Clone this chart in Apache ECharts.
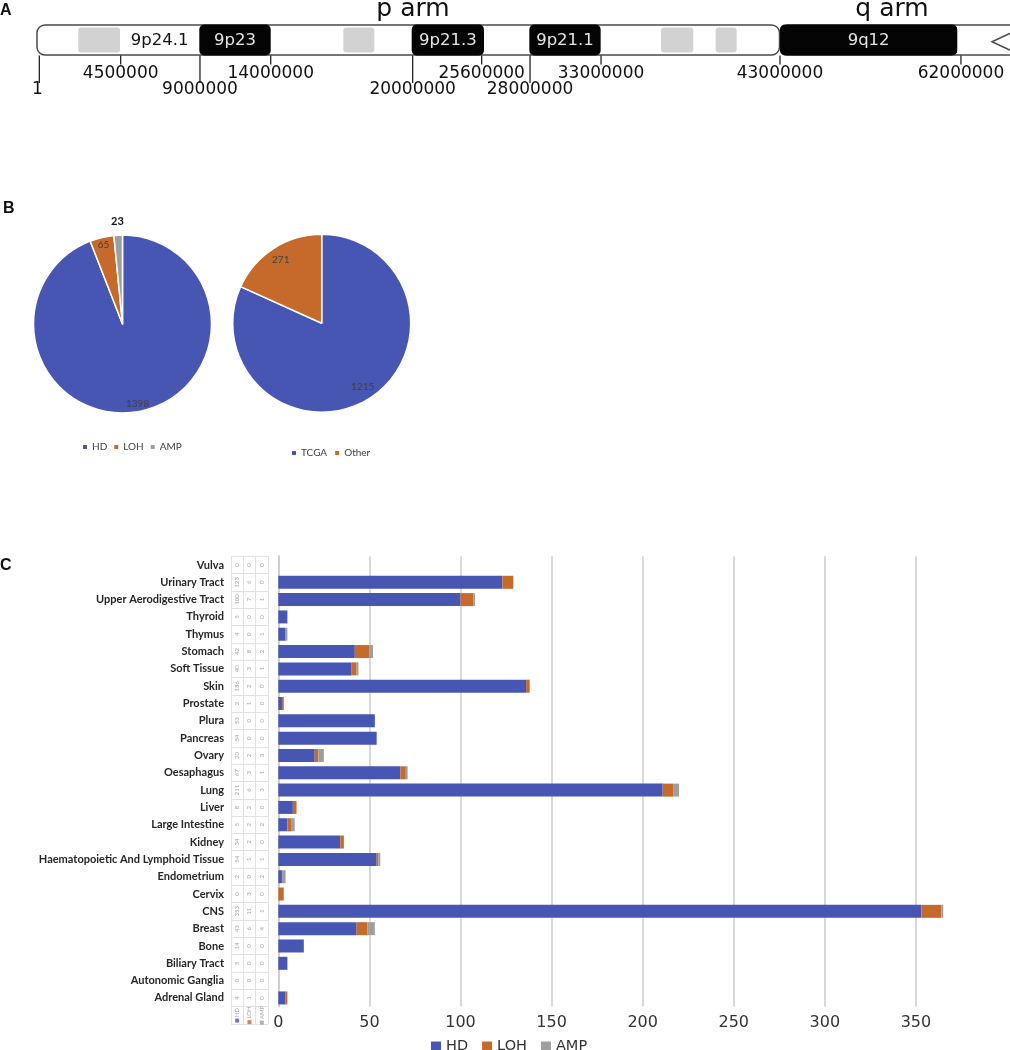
<!DOCTYPE html>
<html><head><meta charset="utf-8">
<script src="https://cdn.jsdelivr.net/npm/echarts@6/dist/echarts.min.js"></script>
<style>html,body{margin:0;padding:0;background:#fff}#c{width:1010px;height:1050px}</style>
</head><body><div id="c"></div>
<script>
// ---------- Panel A: chromosome 9 ideogram (schematic units 0-100 along the drawing) ----------
const armNames = ['p', 'q'];
const armStarts = [0, 76.36];
const armEnds = [76.31, 100.4];
const bandStarts = [4.24, 8.53, 16.68, 31.48, 38.51, 50.6, 64.13, 69.75, 76.36];
const bandEnds   = [8.53, 16.68, 24.02, 34.67, 45.94, 57.93, 67.45, 71.91, 94.58];
const bandStains = ['gpos25', 'gneg', 'gpos100', 'gpos25', 'gpos100', 'gpos100', 'gpos25', 'gpos25', 'gpos100'];
const bandLabels = ['', '9p24.1', '9p23', '', '9p21.3', '9p21.1', '', '', '9q12'];
const tickLabels = ['1', '4500000', '9000000', '14000000', '20000000', '25600000', '28000000', '33000000', '43000000', '62000000'];
const tickPositions = [0.24, 8.6, 16.75, 24.02, 38.61, 45.7, 50.67, 57.97, 76.36, 94.96];
const tickRows = [2, 1, 2, 1, 2, 1, 2, 1, 1, 1];
const notchTip = 98.15;

// ---------- Panel B ----------
const mutationTypes = ['HD', 'LOH', 'AMP'];
const mutationCounts = [1398, 65, 23];
const sources = ['TCGA', 'Other'];
const sourceCounts = [1215, 271];

// ---------- Panel C ----------
const tissues = ['Vulva', 'Urinary Tract', 'Upper Aerodigestive Tract', 'Thyroid', 'Thymus', 'Stomach',
  'Soft Tissue', 'Skin', 'Prostate', 'Plura', 'Pancreas', 'Ovary', 'Oesaphagus', 'Lung', 'Liver',
  'Large Intestine', 'Kidney', 'Haematopoietic And Lymphoid Tissue', 'Endometrium', 'Cervix', 'CNS',
  'Breast', 'Bone', 'Biliary Tract', 'Autonomic Ganglia', 'Adrenal Gland'];
const hdCounts  = [0, 123, 100, 5, 4, 42, 40, 136, 2, 53, 54, 20, 67, 211, 8, 5, 34, 54, 2, 0, 353, 43, 14, 5, 0, 4];
const lohCounts = [0, 6, 7, 0, 0, 8, 3, 2, 1, 0, 0, 2, 3, 6, 2, 2, 2, 1, 0, 3, 11, 6, 0, 0, 0, 1];
const ampCounts = [0, 0, 1, 0, 1, 2, 1, 0, 0, 0, 0, 3, 1, 3, 0, 2, 0, 1, 2, 0, 1, 4, 0, 0, 0, 0];
const xTicks = [0, 50, 100, 150, 200, 250, 300, 350];

const COLORS = { HD: '#4756B3', LOH: '#C66A2C', AMP: '#9E9E9E', TCGA: '#4756B3', Other: '#C66A2C' };
const LINE = '#4a4a4a';

function renderArm(params, api) {
  const i = params.dataIndex;
  const a = api.coord([api.value(0), 1]);
  const b = api.coord([api.value(1), 0]);
  const isQ = armNames[i] === 'q';
  const children = [{
    type: 'rect',
    shape: { x: a[0], y: a[1], width: b[0] - a[0], height: b[1] - a[1], r: isQ ? [8, 0, 0, 8] : 8 },
    style: { fill: '#fff', stroke: LINE, lineWidth: 1.5 }
  }];
  if (isQ) {
    const top = api.coord([api.value(1), 0.78]);
    const tip = api.coord([notchTip, 0.44]);
    const bot = api.coord([api.value(1), 0.1]);
    children.push({ type: 'polyline', shape: { points: [top, tip, bot] }, style: { fill: '#fff', stroke: LINE, lineWidth: 1.5 } });
  }
  return { type: 'group', children };
}

function renderBand(params, api) {
  const i = params.dataIndex;
  const stain = bandStains[i];
  const a = api.coord([api.value(0), 1]);
  const b = api.coord([api.value(1), 0]);
  const children = [];
  if (stain === 'gpos100') {
    children.push({ type: 'rect', shape: { x: a[0], y: a[1] - 0.5, width: b[0] - a[0], height: b[1] - a[1] + 1, r: 5 }, style: { fill: '#050505' } });
  } else if (stain === 'gpos25') {
    children.push({ type: 'rect', shape: { x: a[0], y: a[1] + 2.5, width: b[0] - a[0], height: b[1] - a[1] - 5, r: 3 }, style: { fill: '#d2d2d2' } });
  }
  if (bandLabels[i]) {
    children.push({
      type: 'text', x: (a[0] + b[0]) / 2, y: (a[1] + b[1]) / 2 + 0.5,
      style: { text: bandLabels[i], align: 'center', verticalAlign: 'middle', fill: stain === 'gpos100' ? '#e6e6e6' : '#111', font: '16.5px "DejaVu Sans"' }
    });
  }
  return { type: 'group', children };
}

function renderTick(params, api) {
  const i = params.dataIndex;
  const p = api.coord([api.value(0), 0]);
  const row = tickRows[i];
  const end = p[1] + (row === 1 ? 9.5 : 28);
  const ly = p[1] + (row === 1 ? 18.5 : 35);
  return {
    type: 'group', children: [
      { type: 'line', shape: { x1: p[0], y1: p[1] + 0.5, x2: p[0], y2: end }, style: { stroke: '#222', lineWidth: 1.3 } },
      { type: 'text', x: i === 0 ? p[0] - 2 : p[0], y: ly, style: { text: tickLabels[i], align: 'center', verticalAlign: 'middle', fill: '#111', font: '17px "DejaVu Sans"' } }
    ]
  };
}

const tableData = [];
tissues.forEach((t, r) => {
  tableData.push([0.5, r, hdCounts[r]]);
  tableData.push([1.5, r, lohCounts[r]]);
  tableData.push([2.5, r, ampCounts[r]]);
});
const keyData = mutationTypes.map((m, c) => [c + 0.5, tissues.length, m]);

const pieLabelStyle = { color: '#404040', fontFamily: 'Lato', fontSize: 10 };

const option = {
  animation: false,
  backgroundColor: '#fff',
  graphic: [
    { type: 'text', x: 0, y: 10.5, style: { text: 'A', verticalAlign: 'middle', font: 'bold 16px "Liberation Sans"', fill: '#111' } },
    { type: 'text', x: 3, y: 209, style: { text: 'B', verticalAlign: 'middle', font: 'bold 16px "Liberation Sans"', fill: '#111' } },
    { type: 'text', x: 0, y: 566, style: { text: 'C', verticalAlign: 'middle', font: 'bold 16px "Liberation Sans"', fill: '#111' } },
    { type: 'text', x: 413, y: 9, style: { text: 'p arm', align: 'center', verticalAlign: 'middle', font: '25px "DejaVu Sans"', fill: '#111' } },
    { type: 'text', x: 892, y: 9, style: { text: 'q arm', align: 'center', verticalAlign: 'middle', font: '25px "DejaVu Sans"', fill: '#111' } }
  ],
  legend: [
    { data: mutationTypes, left: 78, top: 436, icon: 'rect', itemWidth: 4, itemHeight: 4, itemGap: 7, selectedMode: false,
      itemStyle: { borderWidth: 0 },
      textStyle: { fontFamily: 'Lato', fontSize: 10, color: '#404040', lineHeight: 12 } },
    { data: sources, left: 287, top: 442, icon: 'rect', itemWidth: 4, itemHeight: 4, itemGap: 8, selectedMode: false,
      itemStyle: { borderWidth: 0 },
      textStyle: { fontFamily: 'Lato', fontSize: 10, color: '#404040', lineHeight: 12 } },
    { data: mutationTypes, left: 426, top: 1034, icon: 'rect', itemWidth: 10, itemHeight: 10, itemGap: 14, selectedMode: false,
      itemStyle: { borderWidth: 0 },
      textStyle: { fontFamily: 'DejaVu Sans', fontSize: 14.5, color: '#333' } }
  ],
  grid: [
    { left: 37, top: 25, width: 973, height: 30 },
    { left: 231, top: 556.3, width: 37, height: 467.6 },
    { left: 278.3, top: 556.3, width: 731, height: 450.3 }
  ],
  xAxis: [
    { type: 'value', gridIndex: 0, min: 0, max: 100, show: false },
    { type: 'value', gridIndex: 1, min: 0, max: 3, interval: 1, axisLabel: { show: false }, axisLine: { show: false }, axisTick: { show: false },
      splitLine: { show: true, lineStyle: { color: '#e2e2e2', width: 1 } } },
    { type: 'value', gridIndex: 2, min: 0, max: 400, interval: 50, axisLine: { show: false }, axisTick: { show: false },
      splitLine: { show: true, showMaxLine: false, lineStyle: { color: '#d9d9d9', width: 2 } },
      axisLabel: { margin: 8, fontFamily: 'DejaVu Sans', fontSize: 16, color: '#333',
        formatter: v => (xTicks.indexOf(v) >= 0 ? String(v) : '') } }
  ],
  yAxis: [
    { type: 'value', gridIndex: 0, min: 0, max: 1, show: false },
    { type: 'category', gridIndex: 1, inverse: true, data: tissues.concat(['']),
      axisLine: { show: false }, axisTick: { show: false },
      splitLine: { show: true, lineStyle: { color: '#e2e2e2', width: 1 } },
      axisLabel: { margin: 7, fontFamily: 'Lato', fontWeight: 'bold', fontSize: 11, color: '#262626' } },
    { type: 'category', gridIndex: 2, inverse: true, data: tissues,
      axisLabel: { show: false }, axisTick: { show: false },
      axisLine: { show: true, lineStyle: { color: '#cfcfcf', width: 2 } } }
  ],
  series: [
    { type: 'custom', xAxisIndex: 0, yAxisIndex: 0, silent: true, clip: false, renderItem: renderArm,
      encode: { x: [0, 1] }, data: armStarts.map((s, i) => [s, armEnds[i]]), z: 1 },
    { type: 'custom', xAxisIndex: 0, yAxisIndex: 0, silent: true, clip: false, renderItem: renderBand,
      encode: { x: [0, 1] }, data: bandStarts.map((s, i) => [s, bandEnds[i]]), z: 2 },
    { type: 'custom', xAxisIndex: 0, yAxisIndex: 0, silent: true, clip: false, renderItem: renderTick,
      encode: { x: 0 }, data: tickPositions.map(p => [p, 0]), z: 3 },

    { name: 'Mutation type', type: 'pie', center: [122.5, 324], radius: 89, startAngle: 90, clockwise: true, silent: true,
      label: { show: false }, labelLine: { show: false },
      itemStyle: { borderColor: '#fff', borderWidth: 1.5 },
      data: mutationTypes.map((m, i) => ({ name: m, value: mutationCounts[i], itemStyle: { color: COLORS[m] } })) },
    { name: 'Source', type: 'pie', center: [321.7, 323.3], radius: 89, startAngle: 90, clockwise: true, silent: true,
      label: { show: false }, labelLine: { show: false },
      itemStyle: { borderColor: '#fff', borderWidth: 1.5 },
      data: sources.map((m, i) => ({ name: m, value: sourceCounts[i], itemStyle: { color: COLORS[m] } })) },
    { name: 'Mutation labels', type: 'pie', center: [122.5, 324], radius: [68, 89], startAngle: 90, clockwise: true, silent: true,
      itemStyle: { color: 'rgba(0,0,0,0)' }, labelLine: { show: false },
      label: Object.assign({ show: true, position: 'inside', formatter: '{c}' }, pieLabelStyle),
      data: mutationTypes.map((m, i) => ({ name: m + ' label', value: mutationCounts[i], label: { show: i < 2 } })) },
    { name: 'Mutation labels outer', type: 'pie', center: [122.5, 324], radius: [93, 107], startAngle: 90, clockwise: true, silent: true,
      itemStyle: { color: 'rgba(0,0,0,0)' }, labelLine: { show: false },
      label: { show: true, position: 'inside', formatter: '{c}', color: '#111', fontFamily: 'Lato', fontWeight: 'bold', fontSize: 11 },
      data: mutationTypes.map((m, i) => ({ name: m + ' outer', value: mutationCounts[i], label: { show: i === 2 } })) },
    { name: 'Source labels', type: 'pie', center: [321.7, 323.3], radius: [56, 89], startAngle: 90, clockwise: true, silent: true,
      itemStyle: { color: 'rgba(0,0,0,0)' }, labelLine: { show: false },
      label: Object.assign({ show: true, position: 'inside', formatter: '{c}' }, pieLabelStyle),
      data: sources.map((m, i) => ({ name: m + ' label', value: sourceCounts[i] })) },

    { name: 'HD', type: 'bar', stack: 'c', xAxisIndex: 2, yAxisIndex: 2, barWidth: 13, data: hdCounts, itemStyle: { color: COLORS.HD }, silent: true },
    { name: 'LOH', type: 'bar', stack: 'c', xAxisIndex: 2, yAxisIndex: 2, barWidth: 13, data: lohCounts, itemStyle: { color: COLORS.LOH }, silent: true },
    { name: 'AMP', type: 'bar', stack: 'c', xAxisIndex: 2, yAxisIndex: 2, barWidth: 13, data: ampCounts, itemStyle: { color: COLORS.AMP }, silent: true },

    { name: 'table', type: 'scatter', xAxisIndex: 1, yAxisIndex: 1, silent: true, symbolSize: 1,
      itemStyle: { color: 'rgba(0,0,0,0)' },
      label: { show: true, position: 'inside', rotate: 90, fontSize: 6, fontFamily: 'Lato', color: '#8c8c8c', formatter: p => String(p.value[2]) },
      data: tableData },
    { name: 'table key', type: 'scatter', xAxisIndex: 1, yAxisIndex: 1, silent: true, symbolSize: 1,
      itemStyle: { color: 'rgba(0,0,0,0)' },
      label: { show: true, position: 'inside', rotate: 90, fontSize: 6, fontFamily: 'Lato', color: '#8c8c8c',
        formatter: p => '{' + p.value[2] + '|} ' + p.value[2],
        rich: { HD: { backgroundColor: COLORS.HD, width: 4, height: 4 }, LOH: { backgroundColor: COLORS.LOH, width: 4, height: 4 }, AMP: { backgroundColor: COLORS.AMP, width: 4, height: 4 } } },
      data: keyData }
  ]
};

const chart = echarts.init(document.getElementById('c'), null, { renderer: 'canvas' });
chart.setOption(option);
</script>
</body></html>
